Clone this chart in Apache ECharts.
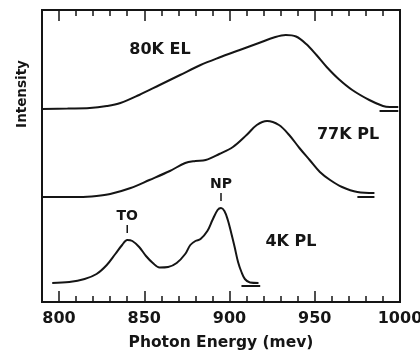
<!DOCTYPE html>
<html>
<head>
<meta charset="utf-8">
<script src="https://cdn.jsdelivr.net/npm/echarts@6/dist/echarts.min.js"></script>
<style>
  html, body { margin: 0; padding: 0; background: #fff; }
  #chart { width: 420px; height: 355px; }
</style>
</head>
<body>
<div id="chart"></div>
<script>
// spectra, [photon energy (meV), intensity (arb., curves stacked)]
const el80K = [[790, 193], [805, 193.5], [818, 194], [828, 196], [836, 199], [847, 207], [859, 217], [871, 227],
  [883, 237], [894, 244.5], [906, 252], [918, 259.5], [926, 264.5], [933, 267], [939, 265.5], [945, 258],
  [951, 247], [957, 235], [964, 223], [972, 212], [982, 202], [990, 196], [994, 195], [999, 195]]
const pl77K = [[790, 105], [812, 105], [822, 106], [830, 108], [842, 114], [853, 122], [865, 131], [874, 139],
  [880, 141], [886, 142], [894, 148], [902, 155], [910, 167], [916, 177], [922, 181], [929, 177],
  [935, 167], [941, 154], [947, 142], [953, 130], [959, 122], [966, 115], [975, 110], [985, 109]]
const pl4K = [[796, 19], [806, 20], [815, 23], [822, 28], [828, 37], [833, 48], [837, 57], [840, 62],
  [843, 61], [847, 55], [851, 46], [855, 39], [859, 34.5], [864, 35], [869, 39], [874, 48],
  [877, 57], [880, 61], [883, 63], [887, 71], [890, 82], [893, 92], [895, 94], [897, 91],
  [899, 82], [901, 69], [903, 55], [905, 40], [907, 30], [909, 23], [912, 19.5], [917, 19]]

// short zero-level bars at the end of each curve: [x start, x end, level]
const zeroMarks = [[988, 999, 191], [975, 985, 105], [907, 918, 16]]

const curveNames = ['80K EL', '77K PL', '4K PL']
const peakNames = ['TO', 'NP']
const peakPos = [[840, 62], [895, 94]]

const minorTicks = []
for (let v = 800; v <= 1000; v += 10) minorTicks.push(v)
const majorTicks = [800, 850, 900, 950, 1000]

const ink = '#151515'
const font = 'DejaVu Sans'

const chart = echarts.init(document.getElementById('chart'))

const tickAxis = (pos, values, len, labels) => ({
  type: 'value', position: pos, min: 790, max: 1000,
  axisLine: { show: true, lineStyle: { color: ink, width: 2 } },
  splitLine: { show: false },
  axisTick: { show: true, inside: true, length: len, customValues: values, lineStyle: { color: ink, width: 1.5 } },
  axisLabel: labels
    ? { show: true, customValues: values, margin: 9, color: ink, fontFamily: font, fontWeight: 'bold', fontSize: 16,
        formatter: v => String(v) }
    : { show: false }
})

const bottomMajor = tickAxis('bottom', majorTicks, 11, true)
bottomMajor.name = 'Photon Energy (mev)'
bottomMajor.nameLocation = 'middle'
bottomMajor.nameGap = 33
bottomMajor.nameTextStyle = { color: ink, fontFamily: font, fontWeight: 'bold', fontSize: 15.5 }

const curve = (data, name) => ({
  type: 'line', name: name, data: data, xAxisIndex: 0, yAxisIndex: 0,
  smooth: 0.35, showSymbol: false, silent: true,
  lineStyle: { color: ink, width: 2 }
})

const series = [
  curve(el80K, curveNames[0]),
  curve(pl77K, curveNames[1]),
  curve(pl4K, curveNames[2])
]
series[2].markPoint = {
  symbol: 'rect', symbolSize: [1.5, 8], symbolOffset: [0, -11], silent: true,
  itemStyle: { color: ink },
  label: { show: true, position: 'top', distance: 2, color: ink, fontFamily: font, fontWeight: 'bold', fontSize: 14,
    formatter: p => p.name },
  data: peakNames.map((n, i) => ({ name: n, coord: peakPos[i] }))
}
zeroMarks.forEach(m => {
  series.push({
    type: 'line', data: [[m[0], m[2]], [m[1], m[2]]], showSymbol: false, silent: true,
    lineStyle: { color: ink, width: 2 }
  })
})

const label = (text, x, y) => ({
  type: 'text', x: x, y: y,
  style: { text: text, fill: ink, font: 'bold 16px "DejaVu Sans"', textAlign: 'center', textVerticalAlign: 'middle' }
})

chart.setOption({
  animation: false,
  backgroundColor: '#fff',
  grid: { left: 42, right: 20, top: 10, bottom: 53, show: false, containLabel: false, outerBoundsMode: 'none' },
  xAxis: [
    tickAxis('bottom', minorTicks, 6, false),
    bottomMajor,
    tickAxis('top', minorTicks, 6, false),
    tickAxis('top', majorTicks, 11, false)
  ],
  yAxis: [
    { type: 'value', min: 0, max: 292, position: 'left',
      axisLine: { show: true, onZero: false, lineStyle: { color: ink, width: 2 } },
      axisTick: { show: false }, axisLabel: { show: false }, splitLine: { show: false } },
    { type: 'value', min: 0, max: 292, position: 'right',
      axisLine: { show: true, onZero: false, lineStyle: { color: ink, width: 2 } },
      axisTick: { show: false }, axisLabel: { show: false }, splitLine: { show: false } }
  ],
  graphic: [
    { type: 'text', x: 22, y: 94, rotation: Math.PI / 2,
      style: { text: 'Intensity', fill: ink, font: 'bold 13.5px "DejaVu Sans"', textAlign: 'center', textVerticalAlign: 'middle' } },
    label(curveNames[0], 160, 50),
    label(curveNames[1], 348, 135),
    label(curveNames[2], 291, 242)
  ],
  series: series
})
</script>
</body>
</html>
